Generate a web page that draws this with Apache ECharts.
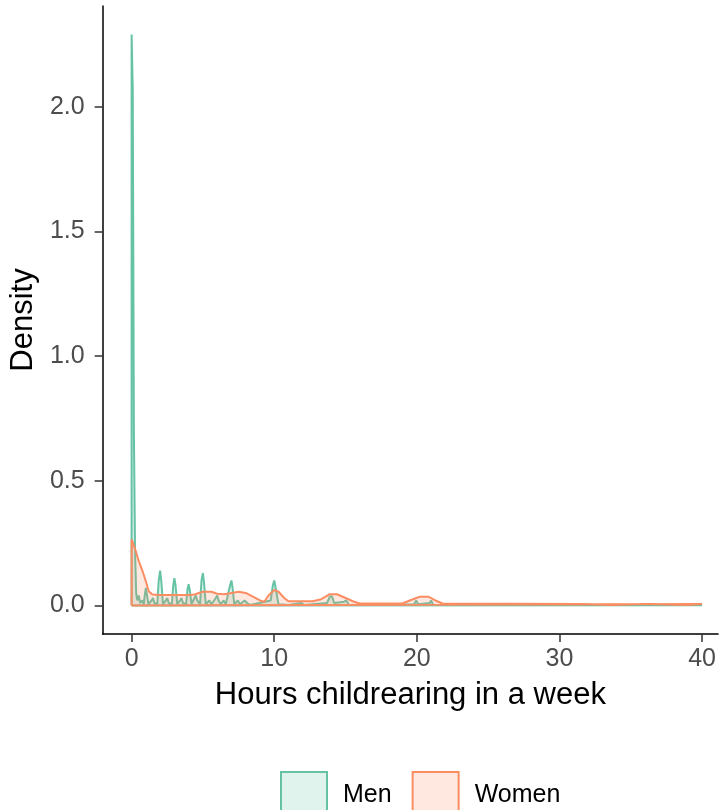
<!DOCTYPE html>
<html><head><meta charset="utf-8">
<script src="https://cdn.jsdelivr.net/npm/echarts@6/dist/echarts.min.js"></script>
<style>html,body{margin:0;padding:0;background:#fff}#c{width:719px;height:810px}</style>
</head><body><div id="c"></div>
<script>
const xTicks = [0, 10, 20, 30, 40];
const yTicks = [0, 0.5, 1, 1.5, 2];
const seriesNames = ['Men', 'Women'];
const xTitle = 'Hours childrearing in a week';
const yTitle = 'Density';

const menHours = [0, 0, 0.08, 0.16, 0.24, 0.32, 0.40, 0.50, 0.60, 0.75, 0.85, 0.92, 1.00, 1.08, 1.18, 1.40, 1.50, 1.60, 1.80, 1.90, 2.00, 2.08, 2.20, 2.40, 2.50, 2.60, 2.82, 2.92, 3.00, 3.08, 3.20, 3.40, 3.50, 3.60, 3.82, 3.92, 4.00, 4.08, 4.20, 4.40, 4.50, 4.60, 4.80, 4.90, 5.00, 5.08, 5.20, 5.45, 5.60, 5.90, 6.00, 6.10, 6.25, 6.45, 6.60, 6.90, 7.00, 7.08, 7.20, 7.45, 7.60, 7.92, 8.00, 8.10, 8.30, 8.95, 9.05, 9.75, 9.90, 10.00, 10.10, 10.30, 11.0, 11.9, 12.1, 13.7, 13.9, 14.05, 14.2, 14.9, 15.05, 15.25, 19.8, 19.95, 20.1, 20.9, 21.0, 21.15, 30, 40, 40, 0];
const menDensity = [0, 2.29, 2.07, 0.70, 0.22, 0.05, 0.02, 0.04, 0.01, 0.02, 0.005, 0.04, 0.07, 0.04, 0.005, 0.02, 0.03, 0.01, 0.005, 0.10, 0.14, 0.10, 0.005, 0.02, 0.03, 0.01, 0.005, 0.08, 0.11, 0.08, 0.005, 0.02, 0.03, 0.01, 0.005, 0.065, 0.085, 0.06, 0.005, 0.03, 0.04, 0.02, 0.005, 0.10, 0.13, 0.09, 0.005, 0.02, 0.005, 0.03, 0.04, 0.02, 0.005, 0.02, 0.005, 0.08, 0.10, 0.07, 0.005, 0.02, 0.005, 0.02, 0.025, 0.01, 0.002, 0.01, 0.002, 0.02, 0.08, 0.10, 0.07, 0.005, 0.002, 0.01, 0.002, 0.01, 0.035, 0.037, 0.01, 0.015, 0.02, 0.002, 0.005, 0.02, 0.005, 0.01, 0.02, 0.002, 0.001, 0.001, 0, 0];

const womenHours = [0, 0, 0.28, 0.49, 0.75, 1.0, 1.2, 1.45, 2.0, 3.0, 4.0, 4.4, 5.0, 5.6, 6.0, 6.5, 7.0, 7.5, 8.0, 8.5, 9.0, 9.3, 9.6, 10.0, 10.3, 10.7, 11.0, 12.0, 12.7, 13.3, 13.9, 14.4, 15.0, 15.6, 16.0, 19.0, 19.5, 20.2, 20.8, 21.3, 21.8, 31.2, 31.3, 33.6, 33.7, 36.1, 36.2, 38.9, 39.0, 40.0, 40.0, 0];
const womenDensity = [0, 0.265, 0.22, 0.18, 0.14, 0.097, 0.057, 0.044, 0.042, 0.042, 0.042, 0.044, 0.055, 0.055, 0.047, 0.045, 0.05, 0.055, 0.05, 0.035, 0.02, 0.015, 0.04, 0.062, 0.055, 0.03, 0.017, 0.017, 0.017, 0.025, 0.045, 0.045, 0.03, 0.015, 0.008, 0.008, 0.02, 0.035, 0.035, 0.02, 0.008, 0.006, 0.002, 0.002, 0.006, 0.006, 0.002, 0.002, 0.006, 0.006, 0, 0];

const zip = (a, b) => a.map((v, i) => [v, b[i]]);
const FONT = '"Liberation Sans", Arial, sans-serif';
const menColor = '#66C2A5', womenColor = '#FC8D62';

const chart = echarts.init(document.getElementById('c'), null, {renderer: 'canvas'});
chart.setOption({
  animation: false,
  backgroundColor: '#fff',
  grid: {left: 102, right: 0, top: 6, bottom: 176, containLabel: false},
  xAxis: {
    type: 'value', min: -2.03, max: 41.12,
    name: xTitle, nameLocation: 'middle', nameGap: 46,
    nameTextStyle: {fontFamily: FONT, fontSize: 31, color: '#000'},
    axisLine: {onZero: false, lineStyle: {color: '#000', width: 1.5}},
    axisTick: {show: true, length: 8, customValues: xTicks, lineStyle: {color: '#333', width: 1.5}},
    axisLabel: {customValues: xTicks, fontFamily: FONT, fontSize: 25, color: '#4D4D4D', margin: 13},
    splitLine: {show: false}
  },
  yAxis: {
    type: 'value', min: -0.1145, max: 2.4045,
    name: yTitle, nameLocation: 'middle', nameGap: 57, nameRotate: 90,
    nameTextStyle: {fontFamily: FONT, fontSize: 31, color: '#000'},
    axisLine: {show: true, onZero: false, lineStyle: {color: '#000', width: 1.5}},
    axisTick: {show: true, length: 8, customValues: yTicks, lineStyle: {color: '#333', width: 1.5}},
    axisLabel: {customValues: yTicks, fontFamily: FONT, fontSize: 25, color: '#4D4D4D', margin: 18,
      formatter: v => v.toFixed(1)},
    splitLine: {show: false}
  },
  legend: {
    left: 275, top: 766, itemWidth: 46, itemHeight: 46, itemGap: 20,
    textStyle: {fontFamily: FONT, fontSize: 25, color: '#000', padding: [0, 0, 0, 11]},
    data: [
      {name: seriesNames[0], icon: 'rect', itemStyle: {color: '#E0F3ED', borderColor: menColor, borderWidth: 2}},
      {name: seriesNames[1], icon: 'rect', itemStyle: {color: '#FEE8E0', borderColor: womenColor, borderWidth: 2}}
    ]
  },
  series: [
    {name: seriesNames[0], type: 'line', data: zip(menHours, menDensity), showSymbol: false, symbol: 'none',
      lineStyle: {color: menColor, width: 2}, itemStyle: {color: menColor},
      areaStyle: {color: menColor, opacity: 0.2}, sampling: null, z: 2},
    {name: seriesNames[1], type: 'line', data: zip(womenHours, womenDensity), showSymbol: false, symbol: 'none',
      lineStyle: {color: womenColor, width: 2}, itemStyle: {color: womenColor},
      areaStyle: {color: womenColor, opacity: 0.2}, sampling: null, z: 3}
  ]
});
</script></body></html>
